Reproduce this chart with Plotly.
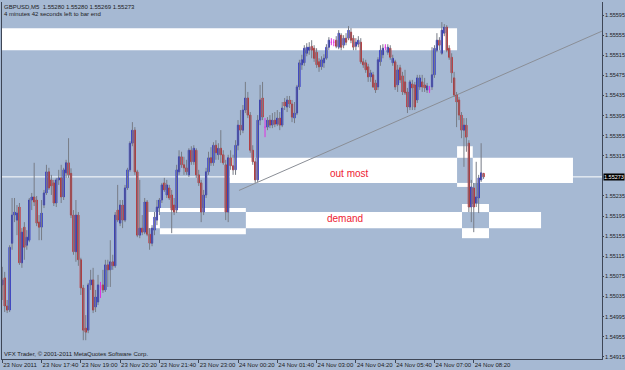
import plotly.graph_objects as go
import pandas as pd

# ---------------- data ----------------
symbol_info = "GBPUSD,M5  1.55280 1.55280 1.55269 1.55273"
timer_info = "4 minutes 42 seconds left to bar end"
copyright_text = "VFX Trader, © 2001-2011 MetaQuotes Software Corp."
first_bar = "2011-11-23 16:20"

opens = [
    1.55058, 1.55072, 1.55016, 1.55008, 1.55141, 1.55197, 1.55187, 1.55213, 1.55102, 1.55173,
    1.55137, 1.55147, 1.55227, 1.55233, 1.55227, 1.55183, 1.55173, 1.55217, 1.55241, 1.55283,
    1.55267, 1.55261, 1.55221, 1.55267, 1.55271, 1.55233, 1.55281, 1.55301, 1.55280, 1.55197,
    1.55124, 1.55197, 1.55108, 1.55052, 1.54972, 1.54968, 1.55058, 1.55068, 1.55014, 1.55024,
    1.55054, 1.55058, 1.55048, 1.55098, 1.55088, 1.55104, 1.55096, 1.55207, 1.55181, 1.55217,
    1.55187, 1.55251, 1.55287, 1.55340, 1.55366, 1.55283, 1.55157, 1.55171, 1.55163, 1.55223,
    1.55159, 1.55141, 1.55167, 1.55187, 1.55211, 1.55227, 1.55261, 1.55237, 1.55251, 1.55237,
    1.55217, 1.55207, 1.55283, 1.55313, 1.55297, 1.55291, 1.55277, 1.55326, 1.55303, 1.55326,
    1.55277, 1.55261, 1.55203, 1.55237, 1.55283, 1.55311, 1.55301, 1.55336, 1.55317, 1.55330,
    1.55317, 1.55297, 1.55203, 1.55311, 1.55295, 1.55287, 1.55336, 1.55376, 1.55366, 1.55406,
    1.55430, 1.55396, 1.55326, 1.55303, 1.55267, 1.55386, 1.55430, 1.55372, 1.55372, 1.55386,
    1.55376, 1.55386, 1.55378, 1.55390, 1.55376, 1.55422, 1.55412, 1.55426, 1.55418, 1.55390,
    1.55400, 1.55452, 1.55496, 1.55500, 1.55519, 1.55525, 1.55533, 1.55529, 1.55521, 1.55502,
    1.55492, 1.55500, 1.55509, 1.55531, 1.55541, 1.55541, 1.55545, 1.55531, 1.55555, 1.55535,
    1.55549, 1.55549, 1.55561, 1.55549, 1.55533, 1.55537, 1.55541, 1.55502, 1.55500, 1.55492,
    1.55472, 1.55476, 1.55460, 1.55452, 1.55502, 1.55516, 1.55531, 1.55521, 1.55529, 1.55500,
    1.55502, 1.55456, 1.55490, 1.55474, 1.55462, 1.55442, 1.55412, 1.55458, 1.55456, 1.55426,
    1.55452, 1.55462, 1.55456, 1.55446, 1.55446, 1.55452, 1.55476, 1.55525, 1.55545, 1.55519,
    1.55559, 1.55571, 1.55529, 1.55511, 1.55470, 1.55436, 1.55426, 1.55396, 1.55366, 1.55376,
    1.55340, 1.55213, 1.55251, 1.55221, 1.55231, 1.55267, 1.55280,
]
highs = [
    1.55094, 1.55084, 1.55028, 1.55137, 1.55231, 1.55231, 1.55217, 1.55221, 1.55171, 1.55183,
    1.55167, 1.55231, 1.55241, 1.55301, 1.55235, 1.55197, 1.55227, 1.55247, 1.55297, 1.55291,
    1.55277, 1.55267, 1.55271, 1.55287, 1.55297, 1.55291, 1.55307, 1.55350, 1.55290, 1.55207,
    1.55227, 1.55203, 1.55112, 1.55058, 1.54998, 1.55062, 1.55088, 1.55092, 1.55048, 1.55078,
    1.55064, 1.55088, 1.55108, 1.55108, 1.55147, 1.55118, 1.55203, 1.55257, 1.55227, 1.55227,
    1.55257, 1.55291, 1.55344, 1.55382, 1.55372, 1.55287, 1.55267, 1.55197, 1.55231, 1.55227,
    1.55171, 1.55177, 1.55203, 1.55227, 1.55231, 1.55261, 1.55271, 1.55267, 1.55257, 1.55247,
    1.55231, 1.55297, 1.55326, 1.55323, 1.55313, 1.55307, 1.55330, 1.55334, 1.55336, 1.55330,
    1.55287, 1.55267, 1.55247, 1.55291, 1.55323, 1.55332, 1.55342, 1.55346, 1.55340, 1.55366,
    1.55326, 1.55307, 1.55317, 1.55326, 1.55317, 1.55346, 1.55386, 1.55406, 1.55416, 1.55462,
    1.55442, 1.55402, 1.55336, 1.55311, 1.55396, 1.55456, 1.55462, 1.55390, 1.55392, 1.55396,
    1.55400, 1.55402, 1.55406, 1.55402, 1.55422, 1.55430, 1.55434, 1.55434, 1.55426, 1.55422,
    1.55456, 1.55506, 1.55516, 1.55535, 1.55539, 1.55541, 1.55545, 1.55535, 1.55529, 1.55509,
    1.55513, 1.55517, 1.55537, 1.55551, 1.55549, 1.55547, 1.55553, 1.55565, 1.55559, 1.55555,
    1.55559, 1.55573, 1.55569, 1.55555, 1.55549, 1.55553, 1.55549, 1.55509, 1.55506, 1.55498,
    1.55486, 1.55482, 1.55466, 1.55511, 1.55535, 1.55537, 1.55537, 1.55537, 1.55535, 1.55516,
    1.55506, 1.55496, 1.55496, 1.55482, 1.55486, 1.55450, 1.55466, 1.55466, 1.55462, 1.55476,
    1.55476, 1.55476, 1.55470, 1.55460, 1.55454, 1.55531, 1.55535, 1.55559, 1.55551, 1.55581,
    1.55577, 1.55575, 1.55535, 1.55519, 1.55482, 1.55442, 1.55432, 1.55402, 1.55390, 1.55390,
    1.55346, 1.55267, 1.55261, 1.55303, 1.55277, 1.55340, 1.55280,
]
lows = [
    1.55028, 1.55004, 1.55002, 1.55004, 1.55128, 1.55183, 1.55157, 1.55098, 1.55092, 1.55108,
    1.55128, 1.55143, 1.55207, 1.55215, 1.55175, 1.55147, 1.55147, 1.55211, 1.55237, 1.55247,
    1.55237, 1.55215, 1.55213, 1.55257, 1.55221, 1.55227, 1.55271, 1.55271, 1.55191, 1.55118,
    1.55104, 1.55096, 1.55038, 1.54948, 1.54948, 1.54962, 1.55048, 1.55002, 1.55004, 1.55018,
    1.55032, 1.55042, 1.55044, 1.55054, 1.55054, 1.55088, 1.55092, 1.55183, 1.55175, 1.55171,
    1.55183, 1.55247, 1.55283, 1.55334, 1.55277, 1.55153, 1.55151, 1.55157, 1.55159, 1.55155,
    1.55128, 1.55135, 1.55157, 1.55177, 1.55197, 1.55221, 1.55243, 1.55231, 1.55227, 1.55161,
    1.55197, 1.55201, 1.55277, 1.55291, 1.55277, 1.55277, 1.55273, 1.55297, 1.55297, 1.55271,
    1.55255, 1.55183, 1.55197, 1.55231, 1.55277, 1.55295, 1.55295, 1.55307, 1.55307, 1.55301,
    1.55297, 1.55187, 1.55183, 1.55287, 1.55277, 1.55277, 1.55326, 1.55356, 1.55360, 1.55400,
    1.55390, 1.55321, 1.55297, 1.55261, 1.55263, 1.55376, 1.55386, 1.55352, 1.55366, 1.55370,
    1.55370, 1.55372, 1.55374, 1.55366, 1.55372, 1.55406, 1.55402, 1.55410, 1.55382, 1.55380,
    1.55396, 1.55446, 1.55486, 1.55494, 1.55513, 1.55516, 1.55509, 1.55502, 1.55490, 1.55482,
    1.55486, 1.55490, 1.55506, 1.55525, 1.55535, 1.55533, 1.55529, 1.55527, 1.55525, 1.55529,
    1.55535, 1.55545, 1.55539, 1.55525, 1.55525, 1.55531, 1.55498, 1.55490, 1.55480, 1.55462,
    1.55462, 1.55450, 1.55440, 1.55446, 1.55494, 1.55509, 1.55525, 1.55516, 1.55506, 1.55494,
    1.55446, 1.55442, 1.55460, 1.55436, 1.55436, 1.55400, 1.55406, 1.55406, 1.55406, 1.55420,
    1.55446, 1.55442, 1.55442, 1.55440, 1.55440, 1.55446, 1.55470, 1.55521, 1.55525, 1.55516,
    1.55553, 1.55521, 1.55506, 1.55460, 1.55432, 1.55372, 1.55386, 1.55350, 1.55293, 1.55323,
    1.55203, 1.55183, 1.55163, 1.55213, 1.55201, 1.55263, 1.55269,
]
closes = [
    1.55068, 1.55016, 1.55008, 1.55133, 1.55197, 1.55203, 1.55201, 1.55102, 1.55163, 1.55133,
    1.55153, 1.55227, 1.55233, 1.55223, 1.55181, 1.55173, 1.55201, 1.55241, 1.55283, 1.55251,
    1.55255, 1.55221, 1.55267, 1.55271, 1.55233, 1.55287, 1.55301, 1.55277, 1.55197, 1.55124,
    1.55197, 1.55108, 1.55052, 1.54968, 1.54964, 1.55058, 1.55068, 1.55008, 1.55034, 1.55058,
    1.55054, 1.55048, 1.55098, 1.55088, 1.55104, 1.55096, 1.55197, 1.55187, 1.55217, 1.55187,
    1.55251, 1.55287, 1.55340, 1.55366, 1.55283, 1.55157, 1.55171, 1.55163, 1.55223, 1.55159,
    1.55141, 1.55171, 1.55193, 1.55213, 1.55227, 1.55257, 1.55247, 1.55257, 1.55231, 1.55207,
    1.55203, 1.55287, 1.55313, 1.55297, 1.55291, 1.55283, 1.55326, 1.55303, 1.55330, 1.55277,
    1.55261, 1.55203, 1.55237, 1.55283, 1.55311, 1.55301, 1.55336, 1.55321, 1.55330, 1.55317,
    1.55301, 1.55203, 1.55311, 1.55295, 1.55287, 1.55336, 1.55376, 1.55366, 1.55406, 1.55430,
    1.55396, 1.55326, 1.55303, 1.55267, 1.55386, 1.55426, 1.55392, 1.55372, 1.55386, 1.55376,
    1.55386, 1.55378, 1.55390, 1.55376, 1.55410, 1.55414, 1.55426, 1.55418, 1.55392, 1.55400,
    1.55452, 1.55500, 1.55506, 1.55529, 1.55531, 1.55531, 1.55525, 1.55509, 1.55496, 1.55492,
    1.55506, 1.55509, 1.55531, 1.55545, 1.55541, 1.55541, 1.55533, 1.55559, 1.55531, 1.55549,
    1.55541, 1.55565, 1.55545, 1.55531, 1.55541, 1.55545, 1.55502, 1.55496, 1.55486, 1.55472,
    1.55480, 1.55452, 1.55446, 1.55506, 1.55525, 1.55529, 1.55531, 1.55531, 1.55511, 1.55509,
    1.55452, 1.55486, 1.55466, 1.55442, 1.55440, 1.55412, 1.55462, 1.55450, 1.55412, 1.55470,
    1.55470, 1.55452, 1.55450, 1.55454, 1.55446, 1.55476, 1.55529, 1.55545, 1.55535, 1.55565,
    1.55571, 1.55525, 1.55511, 1.55480, 1.55436, 1.55422, 1.55396, 1.55366, 1.55376, 1.55352,
    1.55213, 1.55253, 1.55213, 1.55233, 1.55271, 1.55281, 1.55273,
]

bid_price = 1.55273

# drawn zones (MT4 rectangles): start time, end time, lower price, upper price
zone_start = ["2011-11-23 15:00", "2011-11-24 00:03", "2011-11-24 07:46",
              "2011-11-23 21:18", "2011-11-23 21:41", "2011-11-24 07:56"]
zone_end = ["2011-11-24 07:46", "2011-11-24 11:42", "2011-11-24 08:18",
            "2011-11-24 10:37", "2011-11-24 00:36", "2011-11-24 08:51"]
zone_low = [1.55525, 1.55261, 1.55253, 1.55171, 1.55159, 1.55151]
zone_high = [1.55569, 1.55311, 1.55334, 1.55203, 1.55211, 1.55219]

trend_times = ["2011-11-24 00:22", "2011-11-24 12:41"]
trend_prices = [1.55246, 1.55563]

label_texts = ["out most", "demand"]
label_times = ["2011-11-24 04:06", "2011-11-24 03:58"]
label_prices = [1.55279, 1.55191]

tick_times = ["2011-11-23 16:20", "2011-11-23 17:40", "2011-11-23 19:00", "2011-11-23 20:20",
              "2011-11-23 21:40", "2011-11-23 23:00", "2011-11-24 00:20", "2011-11-24 01:40",
              "2011-11-24 03:00", "2011-11-24 04:20", "2011-11-24 05:40", "2011-11-24 07:00",
              "2011-11-24 08:20"]
tick_text = ["23 Nov 2011", "23 Nov 17:40", "23 Nov 19:00", "23 Nov 20:20", "23 Nov 21:40",
             "23 Nov 23:00", "24 Nov 00:20", "24 Nov 01:40", "24 Nov 03:00", "24 Nov 04:20",
             "24 Nov 05:40", "24 Nov 07:00", "24 Nov 08:20"]
price_ticks = [1.55595, 1.55555, 1.55515, 1.55475, 1.55435, 1.55395, 1.55355, 1.55315,
               1.55235, 1.55195, 1.55155, 1.55115, 1.55075, 1.55035, 1.54995, 1.54955, 1.54915]

x_range = ["2011-11-23 16:19:30", "2011-11-24 12:41:06"]
y_range = [1.549106, 1.556210]

# ---------------- styling ----------------
bg = "#A6B9D3"
frame = "#3e4656"
bull = "#1c20c4"
bear = "#c81c1c"
wick = "#777c86"
doji_col = "#e030e0"
txt = "#1c1c1c"
font_family = "Liberation Sans, Arial, sans-serif"

times = pd.date_range(first_bar, periods=len(opens), freq="5min")
n = len(opens)
is_doji = [opens[i] == closes[i] for i in range(n)]
nd = [i for i in range(n) if not is_doji[i]]
dj = [i for i in range(n) if is_doji[i]]

fig = go.Figure()

# wicks
fig.add_trace(go.Ohlc(
    x=[times[i] for i in nd], open=[opens[i] for i in nd], high=[highs[i] for i in nd],
    low=[lows[i] for i in nd], close=[closes[i] for i in nd], tickwidth=0,
    increasing=dict(line=dict(color=wick, width=1)),
    decreasing=dict(line=dict(color=wick, width=1)),
    hoverinfo="skip", showlegend=False))

# bodies
fig.add_trace(go.Candlestick(
    x=[times[i] for i in nd], open=[opens[i] for i in nd], close=[closes[i] for i in nd],
    high=[max(opens[i], closes[i]) for i in nd], low=[min(opens[i], closes[i]) for i in nd],
    increasing=dict(line=dict(color=bull, width=1), fillcolor=bull),
    decreasing=dict(line=dict(color=bear, width=1), fillcolor=bear),
    whiskerwidth=0, hoverinfo="skip", showlegend=False))

# doji bars
fig.add_trace(go.Ohlc(
    x=[times[i] for i in dj], open=[opens[i] for i in dj], high=[highs[i] for i in dj],
    low=[lows[i] for i in dj], close=[closes[i] for i in dj], tickwidth=0.3,
    increasing=dict(line=dict(color=doji_col, width=1)),
    decreasing=dict(line=dict(color=doji_col, width=1)),
    hoverinfo="skip", showlegend=False))

shapes = []
zs = [pd.Timestamp(s) for s in zone_start]
ze = [pd.Timestamp(e) for e in zone_end]
for s, e, lo, hi in zip(zs, ze, zone_low, zone_high):
    shapes.append(dict(type="rect", xref="x", yref="y", x0=s, x1=e, y0=lo, y1=hi,
                       fillcolor="white", line=dict(width=0), layer="below"))
# MT4 draws rectangles in XOR mode: overlapping parts show the background
for a in range(len(zs)):
    for b in range(a + 1, len(zs)):
        s, e = max(zs[a], zs[b]), min(ze[a], ze[b])
        lo, hi = max(zone_low[a], zone_low[b]), min(zone_high[a], zone_high[b])
        if s < e and lo < hi:
            shapes.append(dict(type="rect", xref="x", yref="y", x0=s, x1=e, y0=lo, y1=hi,
                               fillcolor=bg, line=dict(width=0), layer="below"))
# bid line
shapes.append(dict(type="line", xref="paper", yref="y", x0=0, x1=1, y0=bid_price, y1=bid_price,
                   line=dict(color="white", width=1), layer="below"))
# trend line
shapes.append(dict(type="line", xref="x", yref="y", x0=trend_times[0], x1=trend_times[1],
                   y0=trend_prices[0], y1=trend_prices[1],
                   line=dict(color="#8a8e96", width=1), layer="below"))

annotations = [
    dict(text=symbol_info, xref="paper", yref="paper", x=0, y=1, xanchor="left", yanchor="middle",
         yshift=-4.5, showarrow=False, font=dict(size=6, color=txt)),
    dict(text=timer_info, xref="paper", yref="paper", x=0, y=1, xanchor="left", yanchor="middle",
         yshift=-11.5, showarrow=False, font=dict(size=6, color=txt)),
    dict(text=copyright_text, xref="paper", yref="paper", x=0, y=0, xanchor="left", yanchor="middle",
         yshift=5, showarrow=False, font=dict(size=6, color=txt)),
    dict(text=f"{bid_price:.5f}", xref="paper", yref="y", x=1, y=bid_price, xanchor="left",
         yanchor="middle", xshift=0.5, showarrow=False, bgcolor="black", borderpad=0,
         font=dict(size=5.5, color="white")),
]
for t, xt, yp in zip(label_texts, label_times, label_prices):
    annotations.append(dict(text=t, x=xt, y=yp, xref="x", yref="y", showarrow=False,
                            xanchor="center", yanchor="middle",
                            font=dict(size=10, color="#ee2233")))

fig.update_layout(
    width=625, height=370,
    margin=dict(l=2, r=23.3, t=2, b=11, pad=0, autoexpand=False),
    paper_bgcolor=bg, plot_bgcolor=bg, showlegend=False,
    font=dict(family=font_family, size=6, color=txt),
    shapes=shapes, annotations=annotations,
    xaxis=dict(type="date", range=x_range, rangeslider=dict(visible=False), showgrid=False,
               zeroline=False, tickmode="array", tickvals=tick_times, ticktext=tick_text,
               tickangle=0, automargin=False,
               ticks="outside", ticklen=3, tickcolor=frame, showline=True, linecolor=frame,
               linewidth=1, ticklabelposition="outside right", tickfont=dict(size=6, color=txt),
               fixedrange=True),
    yaxis=dict(side="right", range=y_range, showgrid=False, zeroline=False, tickmode="array",
               tickvals=price_ticks, ticktext=[f"{v:.5f}" for v in price_ticks], automargin=False,
               ticks="outside", ticklen=1, ticklabelstandoff=0, tickcolor=frame, showline=True,
               mirror=True, linecolor=frame, linewidth=1, tickfont=dict(size=5.5, color=txt),
               fixedrange=True),
)

fig.write_html("out.html")
